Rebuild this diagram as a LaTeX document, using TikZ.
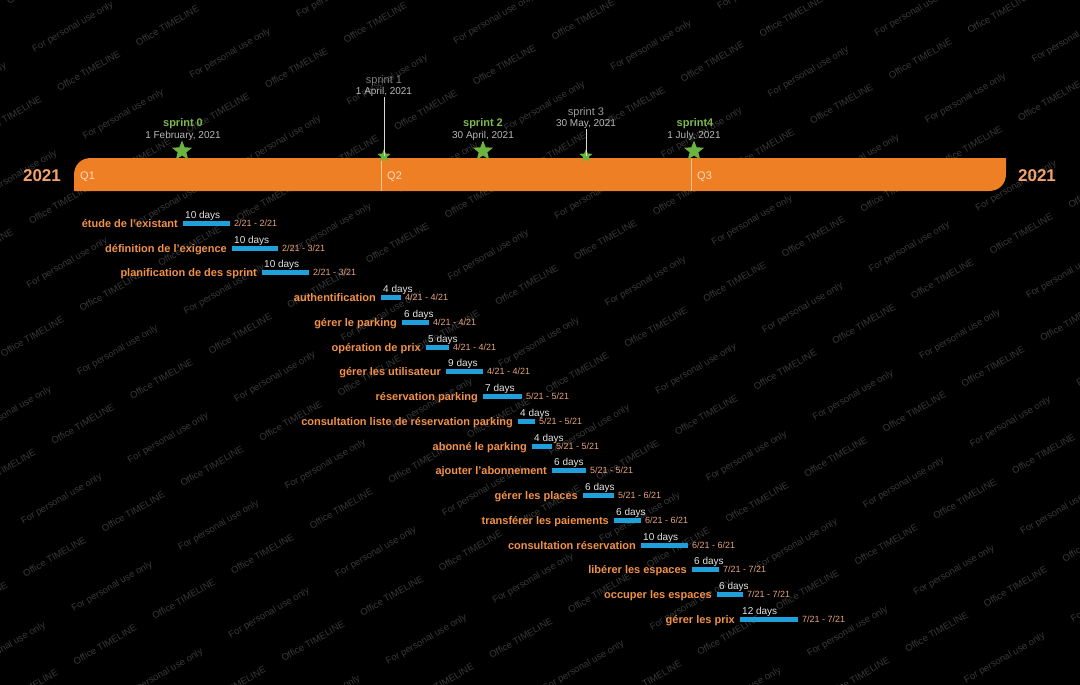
\documentclass[tikz,border=0pt]{standalone}
\usepackage{fontspec}
\setmainfont{Liberation Sans}
\usetikzlibrary{shapes.geometric}
\definecolor{cbarorange}{HTML}{EE7F24}
\definecolor{cyear}{HTML}{F2A36B}
\definecolor{cqtext}{HTML}{FCDCC0}
\definecolor{cqline}{HTML}{F7C79A}
\definecolor{ctask}{HTML}{F29148}
\definecolor{cdate}{HTML}{E8A27C}
\definecolor{cday}{HTML}{E4E4E4}
\definecolor{ctaskbar}{HTML}{1FA0DA}
\definecolor{cstar}{HTML}{6CB33F}
\definecolor{csprintgreen}{HTML}{7DBA4E}
\definecolor{csprintgray}{HTML}{9C9C9C}
\definecolor{cdategray}{HTML}{B8B8B8}
\definecolor{cwm}{HTML}{383838}
\begin{document}
\begin{tikzpicture}[x=1pt,y=-1pt,
  wmark/.style={font=\fontsize{9.5}{10}\selectfont, text=cwm, rotate=30, inner sep=0},
  tasklabel/.style={font=\fontsize{11}{12}\selectfont\bfseries, text=ctask, anchor=base east, inner sep=0},
  daytext/.style={font=\fontsize{10}{11}\selectfont, text=cday, anchor=base west, inner sep=0},
  datetext/.style={font=\fontsize{9}{10}\selectfont, text=cdate, anchor=base west, inner sep=0},
  taskbarbox/.style={fill=ctaskbar, draw=none, inner sep=0, minimum height=5pt},
  bigstar/.style={star, star points=5, star point ratio=2.3, fill=cstar, draw=none, inner sep=0, minimum size=21pt},
  smallstar/.style={star, star points=5, star point ratio=2.3, fill=cstar, draw=none, inner sep=0, minimum size=14pt},
  sprintlab/.style={font=\fontsize{11}{12}\selectfont\bfseries, text=csprintgreen, anchor=base, inner sep=0},
  sprintlabgray/.style={font=\fontsize{11}{12}\selectfont, text=csprintgray, anchor=base, inner sep=0},
  sprintdate/.style={font=\fontsize{10}{11}\selectfont, text=cdategray, anchor=base, inner sep=0},
  yeartext/.style={font=\fontsize{17}{18}\selectfont\bfseries, text=cyear, anchor=base, inner sep=0},
  qtext/.style={font=\fontsize{11}{12}\selectfont, text=cqtext, anchor=base west, inner sep=0},
  qdivider/.style={draw=cqline, line width=0.8pt},
  sprintline/.style={draw=white!85!black, line width=0.9pt}
]
\fill[black] (0,0) rectangle (1080,685);
\useasboundingbox (0,0) rectangle (1080,685);

% watermarks
\begin{scope}
\clip (0,0) rectangle (1080,685);
\foreach \p in {-6,...,18}{
  \foreach \q in {-6,...,6}{
    \pgfmathsetmacro{\ox}{82.7+78.7*\p+50.5*\q}
    \pgfmathsetmacro{\oy}{424-45.3*\p+87.5*\q}
    \node[wmark] (wo\p x\q) at (\ox,\oy) {Office TIMELINE};
    \pgfmathsetmacro{\fx}{168.3+106.7*\p+50.5*\q}
    \pgfmathsetmacro{\fy}{438.3-61*\p+87.5*\q}
    \node[wmark] (wf\p x\q) at (\fx,\fy) {For personal use only};
  }
}
\end{scope}

% main timeline bar
\fill[cbarorange] (74,191) -- (74,175) .. controls (74,165) and (81,158) .. (91,158)
  -- (1006,158) -- (1006,174) .. controls (1006,184) and (999,191) .. (989,191) -- cycle;
\draw[qdivider] (381,159) -- (381,191);
\draw[qdivider] (691,159) -- (691,191);
\node[qtext] (q1) at (80,179) {Q1};
\node[qtext] (q2) at (387,179) {Q2};
\node[qtext] (q3) at (697,179) {Q3};
\node[yeartext] (yl) at (42,181) {2021};
\node[yeartext] (yr) at (1037,181) {2021};

% sprints
\node[bigstar] (st0) at (182,151) {};
\node[sprintlab] (sl0) at (183,127) {sprint 0};
\node[sprintdate] (sd0) at (183,139) {1 February, 2021};

\node[smallstar] (st1) at (384,156) {};
\node[sprintlabgray, text=csprintgray!80!black] (sl1) at (384,84) {sprint 1};
\node[sprintdate] (sd1) at (384,95) {1 April, 2021};
\draw[sprintline] (sd1.south) -- (st1.center);

\node[bigstar] (st2) at (483,151) {};
\node[sprintlab] (sl2) at (483,127) {sprint 2};
\node[sprintdate] (sd2) at (483,139) {30 April, 2021};

\node[smallstar] (st3) at (586,156) {};
\node[sprintlabgray] (sl3) at (586,116) {sprint 3};
\node[sprintdate] (sd3) at (586,127) {30 May, 2021};
\draw[sprintline] (sd3.south) -- (st3.center);

\node[bigstar] (st4) at (694,151) {};
\node[sprintlab] (sl4) at (695,127) {sprint4};
\node[sprintdate] (sd4) at (694,139) {1 July, 2021};

% tasks
\foreach \i/\lab/\a/\b/\y/\d/\sm/\em in {
 1/étude de l'existant/183/230/223/10/2/2,
 2/définition de l'exigence/232/278/248/10/2/3,
 3/planification de des sprint/262/309/272/10/2/3,
 4/authentification/381/401/297/4/4/4,
 5/gérer le parking/402/429/322/6/4/4,
 6/opération de prix/426/449/347/5/4/4,
 7/gérer les utilisateur/446/483/371/9/4/4,
 8/réservation parking/483/522/396/7/5/5,
 9/consultation liste de réservation parking/518/535/421/4/5/5,
 10/abonné le parking/532/552/446/4/5/5,
 11/ajouter l'abonnement/552/586/470/6/5/5,
 12/gérer les places/583/614/495/6/5/6,
 13/transférer les paiements/614/641/520/6/6/6,
 14/consultation réservation/641/688/545/10/6/6,
 15/libérer les espaces/692/719/569/6/7/7,
 16/occuper les espaces/717/743/594/6/7/7,
 17/gérer les prix/740/798/619/12/7/7}{
  \pgfmathsetmacro{\w}{\b-\a}
  \pgfmathsetmacro{\mx}{(\a+\b)/2}
  \node[taskbarbox, minimum width=\w pt] (bar\i) at (\mx,\y) {};
  \node[tasklabel] (lab\i) at (\a-5,\y+4) {\lab};
  \node[daytext] (day\i) at (\a+2,\y-4.5) {\d\ days};
  \node[datetext] (date\i) at (\b+4,\y+3.3) {\sm/21 - \em/21};
}
\end{tikzpicture}
\end{document}
